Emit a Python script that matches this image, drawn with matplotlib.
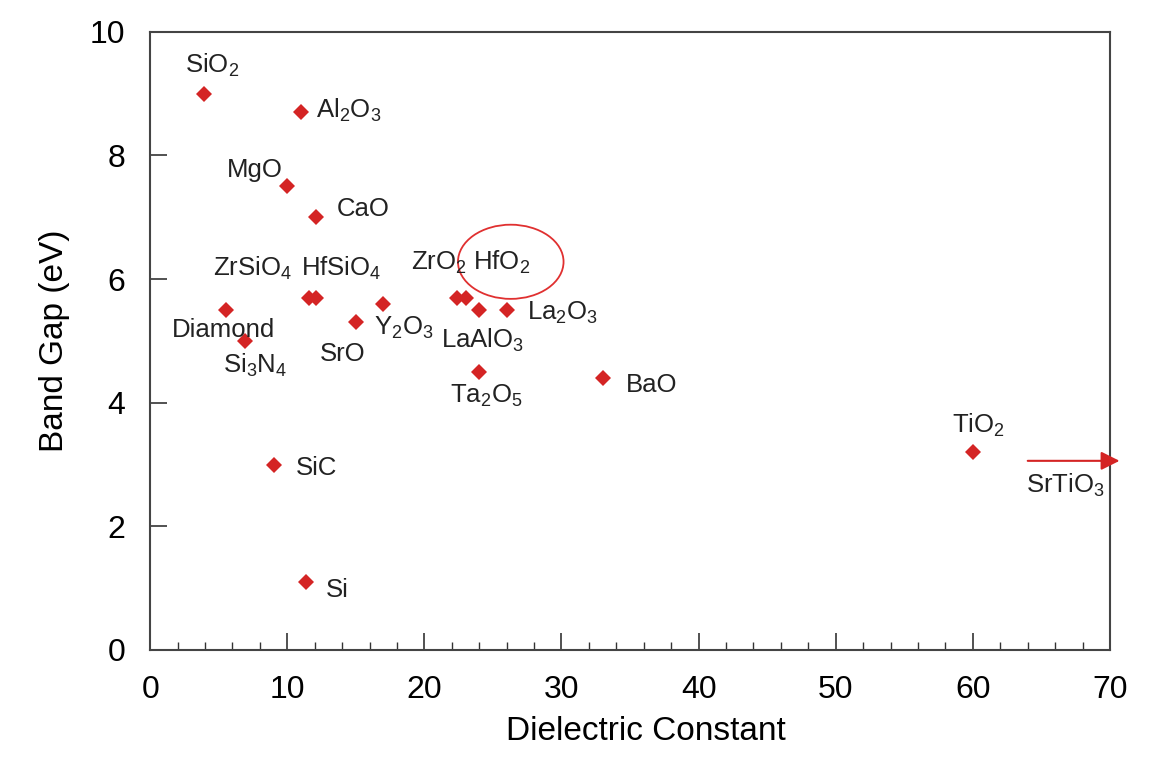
import matplotlib
matplotlib.use("Agg")
import matplotlib.pyplot as plt
from matplotlib.patches import Ellipse
from matplotlib.ticker import MultipleLocator

plt.rcParams['font.family'] = ['Liberation Sans', 'DejaVu Sans']
plt.rcParams['mathtext.default'] = 'regular'

# dielectric constant vs band gap
names = ['SiO$_2$', 'Al$_2$O$_3$', 'MgO', 'CaO', 'Diamond', 'HfSiO$_4$', 'HfSiO$_4$b',
         'Si$_3$N$_4$', 'SrO', 'Y$_2$O$_3$', 'ZrO$_2$', 'ZrO$_2$b', 'LaAlO$_3$',
         'La$_2$O$_3$', 'Ta$_2$O$_5$', 'BaO', 'TiO$_2$', 'SiC', 'Si']
k_vals = [3.9, 11.0, 10.0, 12.1, 5.5, 11.6, 12.1, 6.9, 15.0, 17.0, 22.4, 23.0, 24.0,
          26.0, 24.0, 33.0, 60.0, 9.0, 11.4]
gap_vals = [9.0, 8.7, 7.5, 7.0, 5.5, 5.7, 5.7, 5.0, 5.3, 5.6, 5.7, 5.7, 5.5,
            5.5, 4.5, 4.4, 3.2, 3.0, 1.1]

# text labels (left edge, baseline) in data units
labels = ['SiO$_2$', 'Al$_2$O$_3$', 'MgO', 'CaO', 'ZrSiO$_4$', 'HfSiO$_4$', 'Diamond',
          'Si$_3$N$_4$', 'SrO', 'Y$_2$O$_3$', 'LaAlO$_3$', 'ZrO$_2$', 'HfO$_2$',
          'La$_2$O$_3$', 'Ta$_2$O$_5$', 'BaO', 'TiO$_2$', 'SrTiO$_3$', 'SiC', 'Si']
label_x = [2.55, 12.1, 5.6, 13.6, 4.6, 11.0, 1.6, 5.3, 12.4, 16.3, 21.2, 19.0, 23.55,
           27.5, 21.9, 34.7, 58.5, 63.9, 10.6, 12.8]
label_y = [9.34, 8.61, 7.65, 7.02, 6.05, 6.05, 5.06, 4.48, 4.68, 5.1, 4.89, 6.15, 6.15,
           5.34, 4.0, 4.17, 3.51, 2.54, 2.83, 0.86]

RED = '#d42424'

fig = plt.figure(figsize=(11.55, 7.58), dpi=100)
ax = fig.add_axes([0.13, 0.1425, 0.831, 0.8155])

ax.plot(k_vals, gap_vals, linestyle='none', marker='D', markersize=8.5,
        color=RED, markeredgewidth=0)

for lab, lx, ly in zip(labels, label_x, label_y):
    ax.text(lx, ly, lab, fontsize=18.5, color='#222222', va='baseline', ha='left')

# circle around HfO2
ax.add_patch(Ellipse((26.3, 6.28), 7.7, 1.2, fill=False, edgecolor='#e03030', lw=1.3))

# SrTiO3 arrow going off the chart
ax.annotate('', xy=(70.9, 3.06), xytext=(63.8, 3.06), annotation_clip=False,
            arrowprops=dict(arrowstyle='-|>', color=RED, lw=1.5, mutation_scale=28))

ax.set_xlim(0, 70)
ax.set_ylim(0, 10)
ax.xaxis.set_major_locator(MultipleLocator(10))
ax.xaxis.set_minor_locator(MultipleLocator(2))
ax.yaxis.set_major_locator(MultipleLocator(2))
ax.tick_params(which='major', direction='in', length=12, width=1.2, color='#333333',
               labelsize=23)
ax.tick_params(which='minor', direction='in', length=6, width=1.0, color='#333333')
ax.tick_params(axis='x', pad=18)
ax.tick_params(axis='y', pad=18)
for s in ax.spines.values():
    s.set_color('#444444')
    s.set_linewidth(1.5)

ax.set_xlabel('Dielectric Constant', fontsize=24, labelpad=8, x=0.517)
ax.set_ylabel('Band Gap (eV)', fontsize=24, labelpad=14)

fig.savefig('out.png', dpi=100)
